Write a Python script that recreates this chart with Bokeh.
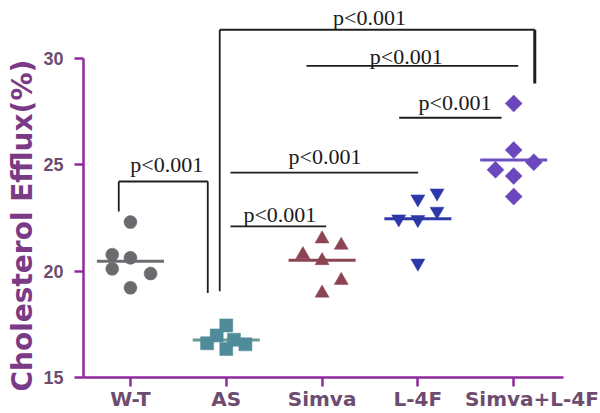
from bokeh.plotting import figure
from bokeh.models import FixedTicker, Range1d, ColumnDataSource, Title
from bokeh.embed import file_html
from bokeh.resources import INLINE
from bokeh.core.properties import value
import math

# ---- data ----
categories = ["W-T", "AS", "Simva", "L-4F", "Simva+L-4F"]

wt_values = [22.31, 20.78, 20.63, 20.11, 19.89, 19.22]
wt_offsets = [0.0, -0.19, 0.0, -0.19, 0.21, 0.0]

as_values = [17.45, 16.98, 16.61, 16.78, 16.56, 16.34]
as_offsets = [0.0, -0.1, -0.2, 0.08, 0.2, 0.0]

simva_values = [21.52, 21.22, 20.78, 20.50, 19.57, 18.97]
simva_offsets = [0.0, 0.2, -0.2, 0.0, 0.2, 0.0]

l4f_values = [23.68, 23.40, 22.82, 22.46, 22.43, 20.38]
l4f_offsets = [0.2, 0.0, 0.2, -0.2, 0.0, 0.0]

combo_values = [27.89, 25.70, 25.13, 24.77, 24.48, 23.51]
combo_offsets = [0.0, 0.0, 0.21, -0.19, 0.0, 0.0]

group_means = [20.47, 16.76, 20.51, 22.47, 25.23]

# significance comparisons: (left group, right group) and their labels
sig_pairs = [("W-T", "AS"), ("AS", "Simva+L-4F"), ("Simva", "Simva+L-4F"),
             ("L-4F", "Simva+L-4F"), ("AS", "L-4F"), ("AS", "Simva")]
sig_labels = ["p<0.001", "p<0.001", "p<0.001", "p<0.001", "p<0.001", "p<0.001"]
sig_heights = [24.22, 31.36, 29.66, 27.22, 24.64, 22.11]
sig_text_x = [0.379, 2.495, 2.879, 3.388, 2.03, 1.56]
sig_text_y = [25.0, 31.94, 30.11, 27.92, 25.39, 22.66]

y_ticks = [15, 20, 25, 30]
y_title = "Cholesterol Efflux(%)"
# where the category names sit under the ticks (the last one is shifted right)
label_positions = [0, 1, 2, 3, 4.19]

# ---- styles ----
marker_colors = ["#6b6a6f", "#4f8b99", "#8c4453", "#2d38a8", "#6a47bc"]
mean_colors = ["#6e6e70", "#6a9a8c", "#8a4452", "#2f3aa6", "#6c4fc0"]
markers = ["circle", "square", "triangle", "inverted_triangle", "square"]
sizes = [13, 13, 14, 14, 12]
angles = [0, 0, 0, 0, math.pi / 4]
axis_color = "#8e2a9c"
label_color = "#6e4c70"

p = figure(width=600, height=413,
           x_range=Range1d(-0.49, 4.906), y_range=Range1d(15, 32.735),
           output_backend="svg", toolbar_location=None,
           min_border_left=83, min_border_right=0,
           min_border_top=0, min_border_bottom=35)
p.title.visible = False
p.outline_line_color = None
p.xgrid.visible = False
p.ygrid.visible = False
p.background_fill_color = "white"
p.border_fill_color = "white"

groups = [(wt_values, wt_offsets), (as_values, as_offsets),
          (simva_values, simva_offsets), (l4f_values, l4f_offsets),
          (combo_values, combo_offsets)]

half = 0.35
for i, (vals, offs) in enumerate(groups):
    p.segment(x0=[i - half], x1=[i + half], y0=[group_means[i]], y1=[group_means[i]],
              line_color=mean_colors[i], line_width=3)
    src = ColumnDataSource(dict(x=[i + o for o in offs], y=vals))
    p.scatter(x="x", y="y", source=src, marker=markers[i], size=sizes[i],
              angle=angles[i], fill_color=marker_colors[i], line_color=marker_colors[i],
              line_width=0.5)

# ---- significance annotations ----
idx = {c: i for i, c in enumerate(categories)}
line_col = "#1e1e1e"
bar_l = [-0.122, -0.068, -0.163, -0.195, 0.044, 0.044]
bar_r = [-0.193, 0.22, 0.047, -0.127, 0.003, 0.043]
for k, (a, b) in enumerate(sig_pairs):
    x0 = idx[a] + bar_l[k]
    x1 = idx[b] + bar_r[k]
    y = sig_heights[k]
    p.segment(x0=[x0], x1=[x1], y0=[y], y1=[y], line_color=line_col, line_width=1.8)
    p.text(x=[sig_text_x[k]], y=[sig_text_y[k]], text=[sig_labels[k]],
           text_font=value("Liberation Serif"), text_font_size="22px",
           text_align="center", text_baseline="alphabetic", text_color="#1a1a1a")

drop_x = [0 - 0.122, 1 - 0.193, 1 - 0.068, 4 + 0.22]
drop_top = [24.22, 24.22, 31.36, 31.36]
drop_bottom = [22.81, 18.98, 19.06, 28.83]
drop_w = [1.8, 1.8, 1.8, 3]
for xx, yt, yb, w in zip(drop_x, drop_top, drop_bottom, drop_w):
    p.segment(x0=[xx], x1=[xx], y0=[yt], y1=[yb], line_color=line_col, line_width=w)

# ---- axes ----
# x: tick marks at the categories (minor ticks), names as (unticked) major labels
xa = p.xaxis[0]
xa.ticker = FixedTicker(ticks=label_positions,
                        minor_ticks=list(range(len(categories))))
xa.major_label_overrides = {pos: c for pos, c in zip(label_positions, categories)}
xa.bounds = (-0.49, 4.52)
xa.major_tick_line_color = None
xa.major_tick_in = 0
xa.major_tick_out = 9
xa.minor_tick_line_color = axis_color
xa.minor_tick_line_width = 2.5
xa.minor_tick_in = 0
xa.minor_tick_out = 9
xa.major_label_standoff = 0
xa.major_label_text_font = "DejaVu Sans"
xa.major_label_text_font_style = "bold"
xa.major_label_text_font_size = "20px"
xa.major_label_text_color = label_color

ya = p.yaxis[0]
ya.ticker = FixedTicker(ticks=y_ticks)
ya.bounds = (15, 30)
ya.major_tick_line_color = axis_color
ya.major_tick_line_width = 2.5
ya.major_tick_in = 0
ya.major_tick_out = 9
ya.minor_tick_in = 0
ya.minor_tick_out = 0
ya.major_label_text_color = label_color
ya.major_label_text_font_style = "bold"
ya.major_label_text_font = "Liberation Sans"
ya.major_label_text_font_size = "18px"
ya.major_label_standoff = 11

for ax in (xa, ya):
    ax.axis_line_color = axis_color
    ax.axis_line_width = 2.5

# y-axis title
p.add_layout(Title(text=y_title, align="left", offset=-14, vertical_align="top",
                   standoff=0, text_font="DejaVu Sans", text_font_style="bold",
                   text_font_size="28px", text_color="#7b3a86"), "left")

open("out.html", "w").write(file_html(p, INLINE))
